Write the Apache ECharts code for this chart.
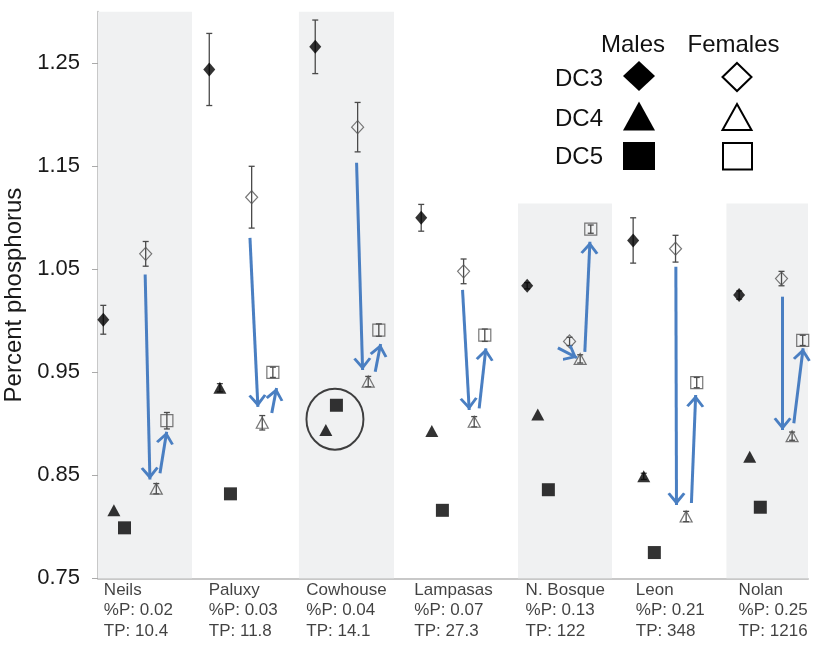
<!DOCTYPE html>
<html>
<head>
<meta charset="utf-8">
<script src="https://cdn.jsdelivr.net/npm/echarts@6/dist/echarts.min.js"></script>
<style>html,body{margin:0;padding:0;background:#fff;}#c{width:821px;height:654px;}</style>
</head>
<body>
<div id="c"></div>
<script>
// ---- data ----
const groups = ['Neils', 'Paluxy', 'Cowhouse', 'Lampasas', 'N. Bosque', 'Leon', 'Nolan'];
const pctP = ['0.02', '0.03', '0.04', '0.07', '0.13', '0.21', '0.25'];
const tpVals = ['10.4', '11.8', '14.1', '27.3', '122', '348', '1216'];

const maleDC3 = [1.001, 1.244, 1.266, 1.100, 1.034, 1.078, 1.025];
const maleDC3Err = [0.014, 0.035, 0.026, 0.013, 0.003, 0.022, 0.004];
const maleDC4 = [0.816, 0.935, 0.894, 0.893, 0.909, 0.849, 0.868];
const maleDC4Err = [0, 0.004, 0, 0, 0, 0.003, 0];
const maleDC5 = [0.799, 0.832, 0.918, 0.816, 0.836, 0.775, 0.819];

const femaleDC3 = [1.065, 1.120, 1.188, 1.048, 0.980, 1.070, 1.041];
const femaleDC3Err = [0.012, 0.030, 0.024, 0.012, 0.004, 0.013, 0.007];
const femaleDC4 = [0.837, 0.901, 0.941, 0.902, 0.963, 0.810, 0.888];
const femaleDC4Err = [0.005, 0.007, 0.005, 0.005, 0.004, 0.005, 0.004];
const femaleDC5 = [0.903, 0.950, 0.991, 0.986, 1.089, 0.940, 0.981];
const femaleDC5Err = [0.008, 0.005, 0.006, 0.006, 0.004, 0.005, 0.005];

const yTicks = [0.75, 0.85, 0.95, 1.05, 1.15, 1.25];

// annotation arrows (data space: [slot, value])
const arrowsDown = [
  [[4.45, 1.045], [4.90, 0.846]],
  [[14.34, 1.0805], [15.09, 0.9164]],
  [[24.40, 1.1535], [24.97, 0.9522]],
  [[34.40, 1.0300], [35.03, 0.9134]],
  [[43.40, 0.9737], [45.20, 0.9641]],
  [[54.53, 1.0525], [54.59, 0.8212]],
  [[64.60, 1.0234], [64.60, 0.8940]]
];
const arrowsUp = [
  [[5.85, 0.852], [6.48, 0.8923]],
  [[16.40, 0.9105], [16.85, 0.9348]],
  [[26.16, 0.9506], [26.67, 0.9775]],
  [[35.97, 0.9150], [36.60, 0.9733]],
  [[45.94, 0.9698], [46.42, 1.0768]],
  [[56.00, 0.8231], [56.40, 0.9280]],
  [[65.66, 0.9005], [66.54, 0.9733]]
];
// shaded bands: [x0, x1, top value]
const bands = [[0, 8.87, 1.30], [18.96, 27.93, 1.30], [39.63, 48.5, 1.114], [59.3, 67, 1.114]];
const labelSlots = [0.6, 10.5, 19.7, 29.9, 40.4, 50.8, 60.5];
const highlight = [[22.36, 0.9045]];

// ---- helpers ----
const slotOf = (g, k) => g * 10 + k + 0.5;
const pts = (arr, k) => arr.map((v, g) => [slotOf(g, k), v]);
const errs = (arr, e, k) => arr.map((v, g) => [slotOf(g, k), v - e[g], v + e[g]]).filter(d => d[2] - d[1] > 0);

const errData = []
  .concat(errs(maleDC3, maleDC3Err, 0))
  .concat(errs(maleDC4, maleDC4Err, 1))
  .concat(errs(femaleDC3, femaleDC3Err, 4))
  .concat(errs(femaleDC4, femaleDC4Err, 5))
  .concat(errs(femaleDC5, femaleDC5Err, 6));

const FONT = "'Liberation Sans', Arial, sans-serif";
const chevron = 'path://M8,-12.4L8,-12.4M8,0L17,11L14.6,12.4L8,4.6L1.4,12.4L-1,11Z';
const arrowLines = arrowsDown.concat(arrowsUp).map(a => [{ coord: a[0] }, { coord: a[1] }]);

const femaleStyle = { color: 'rgba(255,255,255,0)', borderColor: '#555', borderWidth: 1.2 };

const chart = echarts.init(document.getElementById('c'), null, { renderer: 'canvas' });
chart.setOption({
  animation: false,
  backgroundColor: '#fff',
  textStyle: { fontFamily: FONT },
  grid: { left: 98, right: 13, top: 11.8, bottom: 75.7, containLabel: false, outerBoundsMode: 'none' },
  xAxis: {
    type: 'value', min: 0, max: 67,
    axisLine: { show: true, onZero: false, lineStyle: { color: '#c8c8c8', width: 2 } },
    axisTick: { show: false }, axisLabel: { show: false }, splitLine: { show: false }
  },
  yAxis: {
    type: 'value', min: 0.75, max: 1.30,
    name: 'Percent phosphorus', nameLocation: 'middle', nameGap: 62,
    nameTextStyle: { fontSize: 24, color: '#1a1a1a', fontFamily: FONT },
    axisLine: { show: true, lineStyle: { color: '#c8c8c8', width: 2 } },
    axisTick: { show: true, length: 6, customValues: yTicks, lineStyle: { color: '#aaa' } },
    axisLabel: { customValues: yTicks, formatter: v => v.toFixed(2), fontSize: 22, color: '#1a1a1a', margin: 18, fontFamily: FONT },
    splitLine: { show: false }
  },
  graphic: [
    { type: 'text', left: 115, top: 16, style: { text: 'B', font: "bold 20px 'Liberation Sans', Arial", fill: '#333' } },
    { type: 'text', x: 633, y: 45, style: { text: 'Males', font: "24px 'Liberation Sans', Arial", fill: '#111', align: 'center', verticalAlign: 'middle' } },
    { type: 'text', x: 733.5, y: 45, style: { text: 'Females', font: "24px 'Liberation Sans', Arial", fill: '#111', align: 'center', verticalAlign: 'middle' } },
    { type: 'text', x: 555, y: 79, style: { text: 'DC3', font: "24px 'Liberation Sans', Arial", fill: '#111', verticalAlign: 'middle' } },
    { type: 'text', x: 555, y: 119.5, style: { text: 'DC4', font: "24px 'Liberation Sans', Arial", fill: '#111', verticalAlign: 'middle' } },
    { type: 'text', x: 555, y: 157.5, style: { text: 'DC5', font: "24px 'Liberation Sans', Arial", fill: '#111', verticalAlign: 'middle' } },
    { type: 'polygon', shape: { points: [[639, 61], [655, 76], [639, 91], [623, 76]] }, style: { fill: '#000' } },
    { type: 'polygon', shape: { points: [[737, 63], [751.5, 77], [737, 91], [722.5, 77]] }, style: { fill: '#fff', stroke: '#000', lineWidth: 2 } },
    { type: 'polygon', shape: { points: [[639, 101.5], [655, 130.5], [623, 130.5]] }, style: { fill: '#000' } },
    { type: 'polygon', shape: { points: [[737, 104], [751.5, 130], [722.5, 130]] }, style: { fill: '#fff', stroke: '#000', lineWidth: 2 } },
    { type: 'rect', shape: { x: 623, y: 142, width: 32, height: 28 }, style: { fill: '#000' } },
    { type: 'rect', shape: { x: 723, y: 143, width: 29, height: 26.5 }, style: { fill: '#fff', stroke: '#000', lineWidth: 2 } }
  ],
  series: [
    {
      name: 'bands', type: 'scatter', data: [], z: 1, silent: true,
      markArea: {
        silent: true,
        itemStyle: { color: '#f0f1f2' },
        data: bands.map(b => [{ coord: [b[0], 0.75] }, { coord: [b[1], b[2]] }])
      }
    },
    {
      name: 'labels', type: 'scatter', z: 2, silent: true, symbolSize: 1,
      itemStyle: { color: 'rgba(0,0,0,0)' },
      data: groups.map((g, i) => ({ value: [labelSlots[i], 0.75], name: g })),
      label: {
        show: true, position: [0, 2], align: 'left', verticalAlign: 'top',
        fontSize: 17, lineHeight: 20.5, color: '#111', fontFamily: FONT,
        formatter: p => groups[p.dataIndex] + '\n%P: ' + pctP[p.dataIndex] + '\nTP: ' + tpVals[p.dataIndex]
      },
      labelLayout: { hideOverlap: false }
    },
    {
      name: 'errors', type: 'custom', z: 3, silent: true,
      data: errData, encode: { x: 0, y: [1, 2] },
      renderItem: (params, api) => {
        const x = api.value(0);
        const lo = api.coord([x, api.value(1)]);
        const hi = api.coord([x, api.value(2)]);
        const st = { stroke: '#4a4a4a', lineWidth: 1.3 };
        return {
          type: 'group', children: [
            { type: 'line', shape: { x1: lo[0], y1: lo[1], x2: hi[0], y2: hi[1] }, style: st },
            { type: 'line', shape: { x1: hi[0] - 3, y1: hi[1], x2: hi[0] + 3, y2: hi[1] }, style: st },
            { type: 'line', shape: { x1: lo[0] - 3, y1: lo[1], x2: lo[0] + 3, y2: lo[1] }, style: st }
          ]
        };
      }
    },
    { name: 'Males DC3', type: 'scatter', z: 4, symbol: 'diamond', symbolSize: [12, 14], itemStyle: { color: '#000' }, data: pts(maleDC3, 0) },
    { name: 'Males DC4', type: 'scatter', z: 4, symbol: 'triangle', symbolSize: [13, 12], itemStyle: { color: '#000' }, data: pts(maleDC4, 1) },
    { name: 'Males DC5', type: 'scatter', z: 4, symbol: 'rect', symbolSize: [13, 13], itemStyle: { color: '#000' }, data: pts(maleDC5, 2) },
    { name: 'Females DC3', type: 'scatter', z: 4, symbol: 'diamond', symbolSize: [12, 13], itemStyle: femaleStyle, data: pts(femaleDC3, 4) },
    { name: 'Females DC4', type: 'scatter', z: 4, symbol: 'triangle', symbolSize: [12, 11], itemStyle: femaleStyle, data: pts(femaleDC4, 5) },
    { name: 'Females DC5', type: 'scatter', z: 4, symbol: 'rect', symbolSize: [12, 12], itemStyle: femaleStyle, data: pts(femaleDC5, 6) },
    {
      name: 'highlight', type: 'scatter', z: 4, silent: true, symbol: 'circle', symbolSize: [57, 61],
      itemStyle: { color: 'rgba(0,0,0,0)', borderColor: '#111', borderWidth: 2 }, data: highlight
    },
    {
      name: 'arrows', type: 'scatter', data: [], z: 5, silent: true,
      markLine: {
        silent: true, animation: false,
        symbol: ['none', chevron], symbolSize: [18, 24.8],
        label: { show: false },
        emphasis: { disabled: true },
        lineStyle: { type: 'solid', color: '#4a7fc2', width: 3 },
        data: arrowLines
      }
    }
  ]
});
</script>
</body>
</html>
